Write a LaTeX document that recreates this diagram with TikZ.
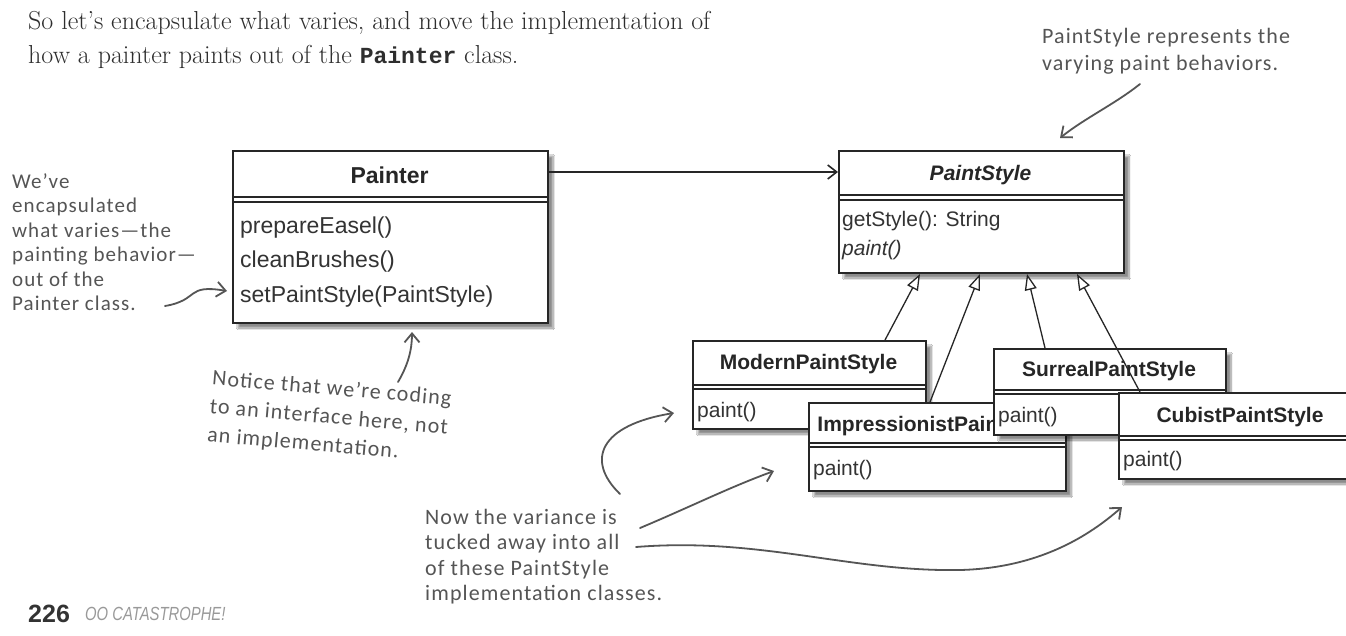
\documentclass[tikz,border=0pt]{standalone}
\usepackage{fontspec}
\newfontfamily\umlf{Liberation Sans}
\newfontfamily\condf[FakeStretch=0.78]{Liberation Sans}
\newfontfamily\handf[LetterSpace=5]{Carlito}
\newfontfamily\monof{Liberation Mono}
\usetikzlibrary{arrows.meta,shadows.blur}
\definecolor{handgray}{HTML}{555555}
\definecolor{textgray}{HTML}{2E2E2E}
\tikzset{
 clsbox/.style={draw=black!85, line width=2pt, fill=white, inner sep=0pt, anchor=north west,
   blur shadow={shadow xshift=5pt, shadow yshift=-5pt, shadow blur steps=8, shadow opacity=45}},
 clstitle/.style={font=\umlf\bfseries\fontsize{21}{25}\selectfont, inner sep=0pt, text=black!85},
 clsbody/.style={font=\umlf\fontsize{21}{25}\selectfont, inner sep=0pt, anchor=west, text=black!80},
 divider/.style={line width=1.3pt, draw=black!85},
 hand/.style={font=\handf\fontsize{22}{25.5}\selectfont, text=handgray, align=left, inner sep=0pt, anchor=north west},
 handarrow/.style={draw=handgray, line width=1.8pt, -{Straight Barb[length=9pt,width=15pt]}, line cap=round},
 assoc/.style={draw=black!85, line width=1.6pt, -{Straight Barb[length=9pt,width=14pt]}},
 inherit/.style={draw=black!85, line width=1.3pt, -{Triangle[open,length=16pt,width=12pt,fill=white]}},
 introtext/.style={font=\fontsize{26}{34}\selectfont, anchor=base west, inner sep=0pt, text=textgray},
}
\begin{document}
\begin{tikzpicture}[x=1pt,y=-1pt]
\useasboundingbox (0,0) rectangle (1346,635);
\clip (0,0) rectangle (1346,635);
\fill[white] (0,0) rectangle (1346,635);

% intro text
\node[introtext] (intro1) at (28,29) {So let’s encapsulate what varies, and move the implementation of};
\node[introtext] (intro2) at (28,63) {how a painter paints out of the {\monof\bfseries\fontsize{23}{34}\selectfont Painter} class.};

% PaintStyle
\node[clsbox, minimum width=285pt, minimum height=122pt] (paintstyle) at (838,150) {};
\draw[divider] (838,195) -- (1123,195);
\draw[divider] (838,200) -- (1123,200);
\node[clstitle, font=\umlf\bfseries\itshape\fontsize{21}{25}\selectfont] (paintstyleT) at (980.5,175) {PaintStyle};
\node[clsbody] (psM1) at (842,221) {getStyle(): String};
\node[clsbody, font=\umlf\itshape\fontsize{21}{25}\selectfont] (psM2) at (842,250) {paint()};

% Painter
\node[clsbox, minimum width=315pt, minimum height=172pt] (painter) at (232,150) {};
\draw[divider] (232,197) -- (547,197);
\draw[divider] (232,202) -- (547,202);
\node[clstitle, font=\umlf\bfseries\fontsize{23}{27}\selectfont] (painterT) at (389.5,175) {Painter};
\node[clsbody, font=\umlf\fontsize{23}{27}\selectfont] (pM1) at (240,228) {prepareEasel()};
\node[clsbody, font=\umlf\fontsize{23}{27}\selectfont] (pM2) at (240,262) {cleanBrushes()};
\node[clsbody, font=\umlf\fontsize{23}{27}\selectfont] (pM3) at (240,297) {setPaintStyle(PaintStyle)};

% Modern
\node[clsbox, minimum width=233pt, minimum height=88pt] (modern) at (692,340) {};
\draw[divider] (692,385) -- (925,385);
\draw[divider] (692,389) -- (925,389);
\node[clstitle] (modernT) at (808.5,364) {ModernPaintStyle};
\node[clsbody] (modernM) at (697,412) {paint()};

% Impressionist
\node[clsbox, minimum width=257pt, minimum height=88pt] (impr) at (808,402) {};
\draw[divider] (808,443) -- (1065,443);
\draw[divider] (808,447) -- (1065,447);
\node[clstitle] (imprT) at (936.5,426) {ImpressionistPaintStyle};
\node[clsbody] (imprM) at (813,470) {paint()};

% Surreal
\node[clsbox, minimum width=232pt, minimum height=86pt] (surreal) at (993,348) {};
\draw[divider] (993,390) -- (1225,390);
\draw[divider] (993,394) -- (1225,394);
\node[clstitle] (surrealT) at (1109,371) {SurrealPaintStyle};
\node[clsbody] (surrealM) at (998,417) {paint()};

% Cubist
\node[clsbox, minimum width=244pt, minimum height=86pt] (cubist) at (1118,392) {};
\draw[divider] (1118,436) -- (1362,436);
\draw[divider] (1118,440) -- (1362,440);
\node[clstitle] (cubistT) at (1240,417) {CubistPaintStyle};
\node[clsbody] (cubistM) at (1123,461) {paint()};

% association
\draw[assoc] ([yshift=-22pt]painter.north east) -- ([yshift=-22pt]paintstyle.north west);

% inheritance
\draw[inherit] ([xshift=193pt]modern.north west) -- ([xshift=82pt]paintstyle.south west);
\draw[inherit] ([xshift=122pt]impr.north west) -- ([xshift=142pt]paintstyle.south west);
\draw[inherit] ([xshift=52pt]surreal.north west) -- ([xshift=189pt]paintstyle.south west);
\draw[inherit] ([xshift=22pt]cubist.north west) -- ([xshift=239pt]paintstyle.south west);

% annotations
\node[hand, font=\handf\fontsize{22}{27}\selectfont] (noteTR) at (1042,28) {PaintStyle represents the\\varying paint behaviors.};
\coordinate (trStart) at (1140,84);
\draw[handarrow] (trStart) .. controls (1115,104) and (1085,118) .. ([xshift=222pt,yshift=12pt]paintstyle.north west);

\node[hand, font=\handf\fontsize{21}{24.5}\selectfont] (noteL) at (12,173) {We’ve\\encapsulated\\what varies—the\\painting behavior—\\out of the\\Painter class.};
\coordinate (lStart) at (165,306);
\draw[handarrow] (lStart) .. controls (200,300) and (185,284) .. ([xshift=-5pt,yshift=-54pt]painter.west);

\node[hand, rotate=-5, font=\handf\fontsize{22}{28.5}\selectfont] (noteN) at (213,369) {Notice that we’re coding\\to an interface here, not\\an implementation.};
\coordinate (nStart) at (398,382);
\draw[handarrow] (nStart) .. controls (408,365) and (412,350) .. ([xshift=180pt,yshift=-8pt]painter.south west);

\node[hand] (noteV) at (425,509) {Now the variance is\\tucked away into all\\of these PaintStyle\\implementation classes.};
\coordinate (v1) at (620,494);
\coordinate (v2) at (640,528);
\coordinate (v3) at (636,547);
\draw[handarrow] (v1) .. controls (585,460) and (600,425) .. ([xshift=-18pt,yshift=-28pt]modern.west);
\draw[handarrow] (v2) .. controls (690,507) and (730,487) .. ([xshift=-34pt,yshift=-24pt]impr.west);
\draw[handarrow] (v3) .. controls (760,537) and (850,572) .. (960,570) .. controls (1040,568) and (1090,535) .. ([xshift=4pt,yshift=-27pt]cubist.south west);

% footer
\node[font=\umlf\bfseries\fontsize{25}{28}\selectfont, anchor=west, inner sep=0pt, text=black!80] (pagenum) at (28,614) {226};
\node[font=\condf\itshape\fontsize{19}{22}\selectfont, anchor=west, inner sep=0pt, text=black!40] (chap) at (85,614) {OO CATASTROPHE!};
\end{tikzpicture}
\end{document}
